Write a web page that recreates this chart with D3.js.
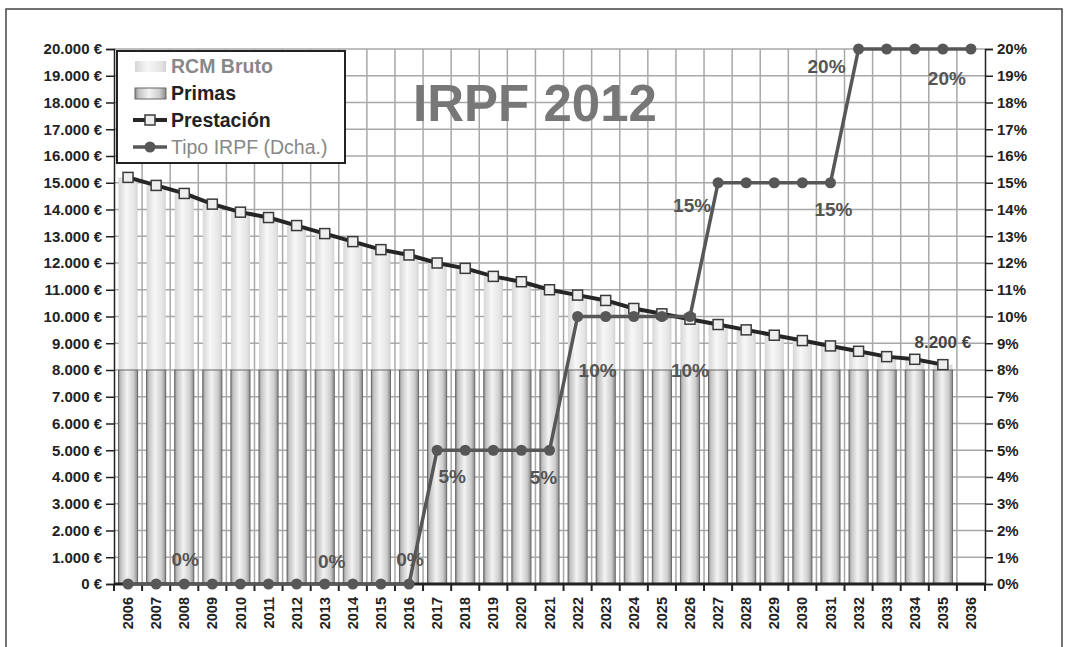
<!DOCTYPE html>
<html>
<head>
<meta charset="utf-8">
<script src="https://cdn.jsdelivr.net/npm/d3@7"></script>
<style>
  body { margin: 0; background: #fff; }
  svg { display: block; font-family: "Liberation Sans", Arial, sans-serif; }
</style>
</head>
<body>
<svg id="chart" width="1066" height="647"></svg>
<script>
// Data
const years = d3.range(2006, 2037).map(String);
const primas = [8000,8000,8000,8000,8000,8000,8000,8000,8000,8000,8000,8000,8000,8000,8000,
                8000,8000,8000,8000,8000,8000,8000,8000,8000,8000,8000,8000,8000,8000,8000,null];
const prestacion = [15200,14900,14600,14200,13900,13700,13400,13100,12800,12500,12300,12000,11800,11500,11300,
                    11000,10800,10600,10300,10100,9900,9700,9500,9300,9100,8900,8700,8500,8400,8200,null];
const tipoIrpf = [0,0,0,0,0,0,0,0,0,0,0,5,5,5,5,5,10,10,10,10,10,15,15,15,15,15,20,20,20,20,20];
const yTicks = d3.range(0, 20001, 1000);
const pctTicks = d3.range(0, 21, 1);

// labelled points of the IRPF series (offsets in px)
const irpfLabels = [
  {year: "2008", dx: 1, dy: -25}, {year: "2013", dx: 7, dy: -23}, {year: "2016", dx: 1, dy: -25},
  {year: "2017", dx: 15, dy: 26}, {year: "2021", dx: -6, dy: 27},
  {year: "2022", dx: 20, dy: 54}, {year: "2026", dx: 0, dy: 54},
  {year: "2027", dx: -26, dy: 23}, {year: "2031", dx: 3, dy: 27},
  {year: "2032", dx: -32, dy: 17}, {year: "2035", dx: 4, dy: 29}
];

const svg = d3.select("#chart");
const plotLeft = 114, plotRight = 985, plotTop = 49, plotBottom = 584;

const x = d3.scaleBand().domain(years).range([plotLeft, plotRight]).paddingInner(0.32).paddingOuter(0.16);
const y = d3.scaleLinear().domain([0, 20000]).range([plotBottom, plotTop]);
const yR = d3.scaleLinear().domain([0, 20]).range([plotBottom, plotTop]);
const cx = d => x(d) + x.bandwidth() / 2;
const step = x.step();
const euro = v => d3.format(",")(v).replace(/,/g, ".") + " €";

// outer frame
svg.append("rect").attr("x", 6).attr("y", 9).attr("width", 1056).attr("height", 700)
  .attr("fill", "none").attr("stroke", "#444").attr("stroke-width", 1.5);

// gradients
const defs = svg.append("defs");
function grad(id, stops) {
  const g = defs.append("linearGradient").attr("id", id).attr("x1", 0).attr("x2", 1).attr("y1", 0).attr("y2", 0);
  stops.forEach(s => g.append("stop").attr("offset", s[0]).attr("stop-color", s[1]));
}
grad("gPrimas", [[0, "#8a8a8a"], [0.12, "#c2c2c2"], [0.45, "#f3f3f3"], [0.8, "#cccccc"], [1, "#8a8a8a"]]);
grad("gRcm", [[0, "#d6d6d6"], [0.4, "#f7f7f7"], [0.85, "#e4e4e4"], [1, "#d2d2d2"]]);

// grid
svg.append("g").selectAll("line").data(yTicks.filter(d => d > 0)).join("line")
  .attr("x1", plotLeft).attr("x2", plotRight).attr("y1", d => y(d)).attr("y2", d => y(d))
  .attr("stroke", "#a8a8a8").attr("stroke-width", 1.5);
svg.append("g").selectAll("line").data(d3.range(1, years.length)).join("line")
  .attr("x1", d => plotLeft + d * step).attr("x2", d => plotLeft + d * step).attr("y1", plotTop).attr("y2", plotBottom)
  .attr("stroke", "#a8a8a8").attr("stroke-width", 1.5);

// bars
const barData = years.map((yr, i) => ({year: yr, primas: primas[i], total: prestacion[i]})).filter(d => d.total != null);
svg.append("g").selectAll("rect").data(barData).join("rect")
  .attr("x", d => x(d.year)).attr("width", x.bandwidth())
  .attr("y", d => y(d.total)).attr("height", d => y(d.primas) - y(d.total))
  .attr("fill", "url(#gRcm)");
svg.append("g").selectAll("rect").data(barData).join("rect")
  .attr("x", d => x(d.year)).attr("width", x.bandwidth())
  .attr("y", d => y(d.primas)).attr("height", d => y(0) - y(d.primas))
  .attr("fill", "url(#gPrimas)").attr("stroke", "#666").attr("stroke-width", 1);

// axes
const axL = svg.append("g").attr("transform", `translate(${plotLeft},0)`)
  .call(d3.axisLeft(y).tickValues(yTicks).tickFormat(euro).tickSize(8).tickPadding(4));
const axR = svg.append("g").attr("transform", `translate(${plotRight},0)`)
  .call(d3.axisRight(yR).tickValues(pctTicks).tickFormat(d => d + "%").tickSize(8).tickPadding(4));
[axL, axR].forEach(a => {
  a.select(".domain").attr("stroke", "#222").attr("stroke-width", 1.5);
  a.selectAll(".tick line").attr("stroke", "#222").attr("stroke-width", 1.5);
  a.selectAll("text").attr("fill", "#222").attr("font-size", 15).attr("font-weight", "bold");
});

const axB = svg.append("g").attr("transform", `translate(0,${plotBottom})`)
  .call(d3.axisBottom(x).tickSize(0).tickPadding(0));
axB.select(".domain").remove();
axB.selectAll("text").attr("transform", "rotate(-90)").attr("text-anchor", "end")
  .attr("x", -13).attr("y", 0).attr("dy", "0.35em")
  .attr("fill", "#222").attr("font-size", 14.5).attr("font-weight", "bold");
svg.append("g").selectAll("line").data(d3.range(0, years.length + 1)).join("line")
  .attr("x1", d => plotLeft + d * step).attr("x2", d => plotLeft + d * step).attr("y1", plotBottom).attr("y2", plotBottom + 7)
  .attr("stroke", "#222").attr("stroke-width", 2);
svg.append("line").attr("x1", plotLeft).attr("x2", plotRight).attr("y1", plotBottom).attr("y2", plotBottom)
  .attr("stroke", "#222").attr("stroke-width", 3);

// Prestación line
const presData = years.map((yr, i) => ({year: yr, v: prestacion[i]})).filter(d => d.v != null);
svg.append("path").datum(presData)
  .attr("d", d3.line().x(d => cx(d.year)).y(d => y(d.v)))
  .attr("fill", "none").attr("stroke", "#262626").attr("stroke-width", 4);
svg.append("g").selectAll("rect").data(presData).join("rect")
  .attr("x", d => cx(d.year) - 5).attr("y", d => y(d.v) - 5).attr("width", 10).attr("height", 10)
  .attr("fill", "#eeeeee").attr("stroke", "#3a3a3a").attr("stroke-width", 1.5);

// IRPF line
const irpfData = years.map((yr, i) => ({year: yr, v: tipoIrpf[i]}));
svg.append("path").datum(irpfData)
  .attr("d", d3.line().x(d => cx(d.year)).y(d => yR(d.v)))
  .attr("fill", "none").attr("stroke", "#575757").attr("stroke-width", 3.5);
svg.append("g").selectAll("circle").data(irpfData).join("circle")
  .attr("cx", d => cx(d.year)).attr("cy", d => yR(d.v)).attr("r", 5.5).attr("fill", "#575757");

// data labels
svg.append("g").selectAll("text").data(irpfLabels).join("text")
  .attr("x", d => cx(d.year) + d.dx)
  .attr("y", d => yR(tipoIrpf[years.indexOf(d.year)]) + d.dy)
  .attr("dy", "0.35em").attr("text-anchor", "middle")
  .attr("fill", "#555").attr("font-size", 19).attr("font-weight", "bold")
  .text(d => tipoIrpf[years.indexOf(d.year)] + "%");
const lastIdx = years.indexOf("2035");
svg.append("text").attr("x", cx("2035")).attr("y", y(prestacion[lastIdx]) - 23)
  .attr("dy", "0.35em").attr("text-anchor", "middle")
  .attr("fill", "#444").attr("font-size", 17).attr("font-weight", "bold")
  .text(euro(prestacion[lastIdx]));

// title
svg.append("text").attr("x", 535).attr("y", 121).attr("text-anchor", "middle")
  .attr("fill", "#777").attr("font-size", 51).attr("font-weight", "bold").text("IRPF 2012");

// legend
const lg = svg.append("g");
lg.append("rect").attr("x", 117).attr("y", 51).attr("width", 228).attr("height", 112)
  .attr("fill", "#fff").attr("stroke", "#222").attr("stroke-width", 2);
const legendItems = [
  {name: "RCM Bruto", type: "bar", fill: "url(#gRcm)", stroke: "none", color: "#888", weight: "bold"},
  {name: "Primas", type: "bar", fill: "url(#gPrimas)", stroke: "#666", color: "#222", weight: "bold"},
  {name: "Prestación", type: "square", color: "#222", weight: "bold"},
  {name: "Tipo IRPF (Dcha.)", type: "circle", color: "#888", weight: "normal"}
];
legendItems.forEach((it, i) => {
  const yy = 66 + i * 27;
  if (it.type === "bar") {
    lg.append("rect").attr("x", 135).attr("y", yy - 5).attr("width", 31).attr("height", 11)
      .attr("fill", it.fill).attr("stroke", it.stroke);
  } else if (it.type === "square") {
    lg.append("line").attr("x1", 133).attr("x2", 167).attr("y1", yy).attr("y2", yy)
      .attr("stroke", "#262626").attr("stroke-width", 4);
    lg.append("rect").attr("x", 145).attr("y", yy - 5).attr("width", 10).attr("height", 10)
      .attr("fill", "#eee").attr("stroke", "#3a3a3a").attr("stroke-width", 1.5);
  } else {
    lg.append("line").attr("x1", 133).attr("x2", 167).attr("y1", yy).attr("y2", yy)
      .attr("stroke", "#575757").attr("stroke-width", 3.5);
    lg.append("circle").attr("cx", 150).attr("cy", yy).attr("r", 5.5).attr("fill", "#575757");
  }
  lg.append("text").attr("x", 171).attr("y", yy).attr("dy", "0.35em")
    .attr("fill", it.color).attr("font-size", 19.5).attr("font-weight", it.weight).text(it.name);
});
</script>
</body>
</html>
